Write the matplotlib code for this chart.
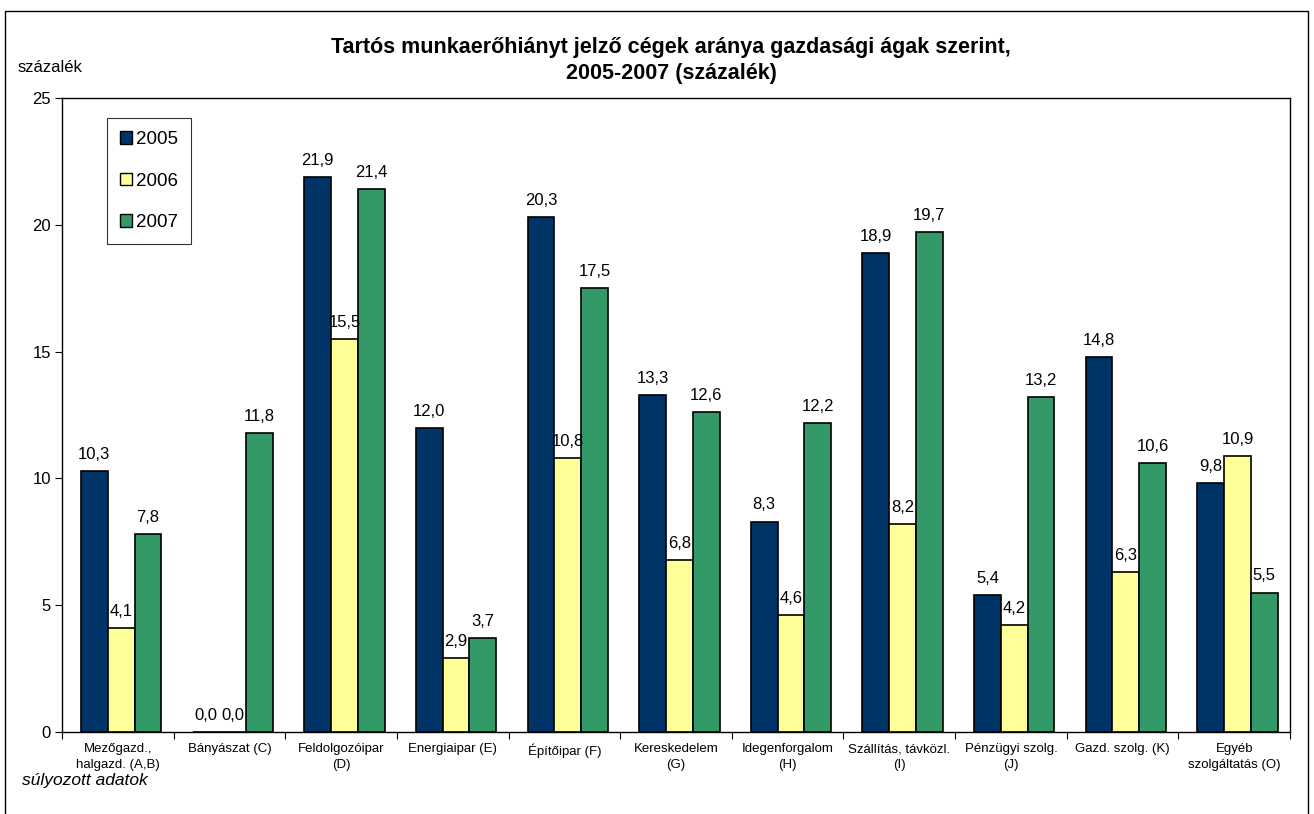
import matplotlib

matplotlib.use("Agg")
import matplotlib.pyplot as plt
from matplotlib.patches import Rectangle
import numpy as np

plt.rcParams["font.family"] = ["Liberation Sans", "DejaVu Sans"]

categories = [
    "Mezőgazd.,\nhalgazd. (A,B)",
    "Bányászat (C)",
    "Feldolgozóipar\n(D)",
    "Energiaipar (E)",
    "Építőipar (F)",
    "Kereskedelem\n(G)",
    "Idegenforgalom\n(H)",
    "Szállítás, távközl.\n(I)",
    "Pénzügyi szolg.\n(J)",
    "Gazd. szolg. (K)",
    "Egyéb\nszolgáltatás (O)",
]
years = ["2005", "2006", "2007"]
v2005 = [10.3, 0.0, 21.9, 12.0, 20.3, 13.3, 8.3, 18.9, 5.4, 14.8, 9.8]
v2006 = [4.1, 0.0, 15.5, 2.9, 10.8, 6.8, 4.6, 8.2, 4.2, 6.3, 10.9]
v2007 = [7.8, 11.8, 21.4, 3.7, 17.5, 12.6, 12.2, 19.7, 13.2, 10.6, 5.5]
colors = ["#003366", "#FFFF99", "#339966"]

W, H = 1314, 814
fig = plt.figure(figsize=(W / 100, H / 100), dpi=100)
ax = fig.add_axes([62 / W, 1 - 732 / H, 1228 / W, (732 - 98) / H])

x = np.arange(len(categories))
bw = 0.24
for i, (vals, col, yr) in enumerate(zip([v2005, v2006, v2007], colors, years)):
    pos = x + (i - 1) * bw + 0.03
    ax.bar(pos, vals, bw, color=col, edgecolor="black", linewidth=1.2, label=yr)
    for px, v in zip(pos, vals):
        ax.annotate(f"{v:.1f}".replace(".", ","), (px, v), xytext=(0, 6.5),
                    textcoords="offset points", ha="center", va="bottom",
                    fontsize=12)

ax.set_xlim(-0.5, len(categories) - 0.5)
ax.set_ylim(0, 25)
ax.set_yticks([0, 5, 10, 15, 20, 25])
ax.tick_params(axis="y", labelsize=12, length=5, direction="out", pad=3)
ax.set_xticks(np.arange(len(categories) + 1) - 0.5, minor=False)
ax.set_xticklabels([])
ax.tick_params(axis="x", length=5, direction="out")
ax.set_xticks(x, minor=True)
ax.set_xticklabels(categories, minor=True, fontsize=9.5, linespacing=1.45)
ax.tick_params(axis="x", which="minor", length=0, pad=8)
for s in ax.spines.values():
    s.set_linewidth(1.0)

leg = ax.legend(loc="upper left", bbox_to_anchor=(45 / 1228, 1 - 20 / 634),
                fontsize=13.5, frameon=True, fancybox=False, edgecolor="black",
                handlelength=0.65, handleheight=0.65, handletextpad=0.2,
                labelspacing=1.3, borderpad=0.7, borderaxespad=0)
leg.get_frame().set_linewidth(0.8)
for h in leg.legend_handles:
    h.set_linewidth(1.0)

fig.text(671 / W, 1 - 47 / H, "Tartós munkaerőhiányt jelző cégek aránya gazdasági ágak szerint,",
         ha="center", va="center", fontsize=15.5, fontweight="bold")
fig.text(671 / W, 1 - 73 / H, "2005-2007 (százalék)",
         ha="center", va="center", fontsize=15.5, fontweight="bold")
fig.text(18 / W, 1 - 68 / H, "százalék", ha="left", va="center", fontsize=12)
fig.text(22 / W, 1 - 781 / H, "súlyozott adatok", ha="left", va="center",
         fontsize=12.5, style="italic")

fig.patches.append(Rectangle((5 / W, -0.05), 1303 / W, 1.05 - 11 / H,
                             transform=fig.transFigure, fill=False,
                             edgecolor="black", linewidth=1.0))

fig.savefig("out.png", dpi=100)
